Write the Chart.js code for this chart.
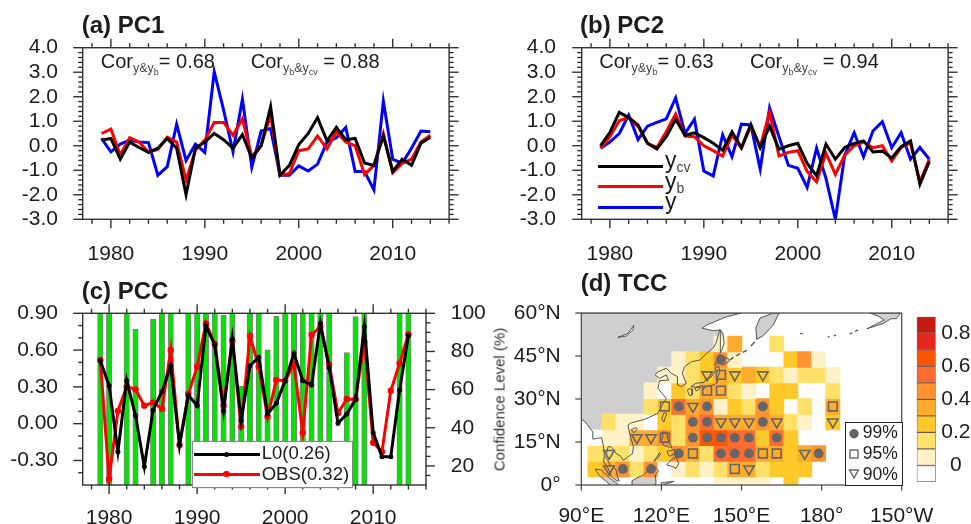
<!DOCTYPE html>
<html><head><meta charset="utf-8">
<script src="https://cdn.jsdelivr.net/npm/chart.js@4"></script>
<style>
html,body{margin:0;padding:0;background:#fff;width:971px;height:524px;overflow:hidden}
body{position:relative;font-family:"Liberation Sans",Arial,sans-serif;color:#1c1c1c}
canvas{position:absolute;display:block;filter:blur(.4px)}
.t{position:absolute;line-height:1;white-space:nowrap;filter:blur(.3px)}
.s{position:relative;color:#444}
.key{position:absolute;height:3px}
</style></head><body>
<script>
// ---------- Data ----------
const years=[1979,1980,1981,1982,1983,1984,1985,1986,1987,1988,1989,1990,1991,1992,1993,1994,1995,1996,1997,1998,1999,2000,2001,2002,2003,2004,2005,2006,2007,2008,2009,2010,2011,2012,2013,2014];
const pc1Obs=[0.3,-0.25,0.07,0.23,0.15,0.13,-1.2,-0.85,0.88,-0.6,0.07,-0.27,3.02,1.45,-0.25,1.9,-0.88,0.6,0.7,-1.2,-1.2,-0.82,-1.03,-0.75,0.15,0.33,0.75,-1.05,-1.05,-1.8,1.82,-0.55,-0.72,-0.1,0.6,0.57];
const pc1Yb=[0.5,0.68,-0.38,0.33,0.15,-0.27,-0.15,0.35,0.15,-1.4,-0.18,0.23,0.95,0.95,0.43,1.1,-0.45,0.03,1.25,-1.2,-1.13,-0.2,-0.13,0.4,-0.13,0.57,0.15,0,-1.17,-0.8,0.5,-1.1,-0.72,-0.55,0.15,0.43];
const pc1Ycv=[0.23,0.3,-0.55,0.15,-0.07,-0.27,-0.1,0.3,-0.1,-2.0,-0.1,0.15,0.5,0.25,-0.1,0.45,-0.5,0,1.6,-1.2,-0.8,0.05,0.5,1.15,0.2,0.75,0.25,0.3,-0.7,-0.8,0.4,-1.05,-0.55,-0.8,0.1,0.35];
const pc2Obs=[-0.1,0.15,0.5,1.25,0.25,0.8,0.95,1.1,1.95,0.5,1.08,-1.03,-1.23,0.45,-0.45,0.88,0.85,-0.95,1.55,0.37,-0.8,-0.92,-1.7,-0.1,-1.33,-3.0,-0.38,0.53,-0.45,0.6,0.98,-0.08,0.53,-0.55,-0.07,-0.55];
const pc2Yb=[-0.1,0.37,1.02,1.15,0.78,0.1,-0.07,0.57,1.3,0.4,0.37,0,-0.2,-0.42,0.43,-0.1,0.8,-0.04,1.36,-0.42,-0.27,-0.2,-1.05,-1.47,-0.3,-1.17,-0.38,0,0.15,-0.08,0,-0.62,-0.07,0.12,-1.47,-0.55];
const pc2Ycv=[0,0.55,1.36,1.15,0.85,0.1,-0.13,0.37,1.07,0.43,0.53,0.33,0.1,-0.18,0.57,-0.08,0.87,-0.08,0.8,-0.15,0,0.1,-0.72,-1.22,0.07,-0.55,-0.07,0.1,0.2,-0.25,-0.22,-0.5,-0.04,0.2,-1.57,-0.65];
const pccL0=[0.514,0.31,-0.228,0.351,0.066,-0.35,0.112,0.261,0.471,-0.174,0.234,0.147,0.797,0.642,0.104,0.691,0.025,0.473,0.541,0.079,0.166,0.351,0.574,0.351,0.316,0.818,0.457,0.003,0.079,0.199,0.791,-0.073,-0.269,-0.269,0.275,0.718];
const pccObs=[0.519,-0.451,0.104,0.302,0.28,0.147,0.174,0.12,0.601,-0.174,0.242,0.465,0.818,0.65,0.147,0.677,-0.024,0.715,0.465,0.057,0.356,0.351,0.484,-0.073,0.723,0.791,0.484,0.085,0.201,0.199,0.669,-0.155,-0.228,0.269,0.492,0.729];
const confidence=[100,100,null,100,91.6,null,96.9,100,100,null,100,100,100,100,99,100,61.9,100,100,80.8,98.6,100,100,100,100,100,100,null,79.4,98.3,100,null,null,null,100,100];

const yearTicks=[1980,1990,2000,2010];
const yearMinor=[1978,1982,1984,1986,1988,1992,1994,1996,1998,2002,2004,2006,2008,2012,2014,2016];
const pcTicks=[-3,-2,-1,0,1,2,3,4];
const pcMinor=[-2.8,-2.6,-2.4,-2.2,-1.8,-1.6,-1.4,-1.2,-0.8,-0.6,-0.4,-0.2,0.2,0.4,0.6,0.8,1.2,1.4,1.6,1.8,2.2,2.4,2.6,2.8,3.2,3.4,3.6,3.8];
const pccTicks=[-0.3,0,0.3,0.6,0.9];
const pccMinor=[-0.4,-0.2,-0.1,0.1,0.2,0.4,0.5,0.7,0.8];
const confTicks=[20,40,60,80,100];
const confMinor=[15,25,30,35,45,50,55,65,70,75,85,90,95];

const cellLons=[95.1,100.4,105.6,110.8,116.1,121.3,126.5,131.8,137.1,142.3,147.5,152.8,158,163.2,168.5,173.7,178.9,184.2];
const cellLats=[0,5.6,11,16.5,22,27.4,32.9,38.4,43.8,49.2];
const _=null, W=-0.05;
const tcc00=[_,_,_,_,_,_,_,_,_,.05,.05,.05,.05,_,.25,_,_,_];
const tcc06=[.25,.35,.45,.15,.45,W,.05,.15,.05,.15,.35,.35,.15,.25,.25,.25,_,_];
const tcc11=[.15,.15,.15,.05,.15,.25,.45,.35,.15,.55,.55,.55,.35,.35,.25,.35,.45,_];
const tcc17=[W,.05,.05,.35,.35,.45,.15,.45,.65,.65,.55,.55,.25,.55,.25,_,_,_];
const tcc22=[_,.15,.05,.05,W,.25,.15,.45,.55,.35,.35,.35,.45,.35,.15,.05,_,.25];
const tcc27=[_,_,_,_,.15,.25,.55,.35,.45,.05,.25,.15,.45,.25,_,.15,_,.35];
const tcc33=[_,_,_,_,.05,W,.25,.15,.35,.35,.15,.05,_,.25,.25,_,_,.15];
const tcc38=[_,_,_,_,_,.05,.05,.15,.25,.35,.25,.35,.25,.15,.05,.15,.15,.05];
const tcc44=[_,_,_,_,_,_,.05,.15,.25,.45,.05,_,_,_,.25,.45,.05,_];
const tcc49=[_,_,_,_,_,_,_,_,_,.05,.35,_,_,.15,_,_,_,_];
const tccRows=[tcc00,tcc06,tcc11,tcc17,tcc22,tcc27,tcc33,tcc38,tcc44,tcc49];

const dots99=[[105.6,5.6],[116.1,5.6],[126.5,11],[142.3,11],[147.5,11],[152.8,11],[178.9,11],[131.8,16.5],[137.1,16.5],[142.3,16.5],[147.5,16.5],[152.8,16.5],[163.2,16.5],[131.8,22],[137.1,22],[158,22],[126.5,27.4],[137.1,27.4],[158,27.4],[142.3,43.8]];
const squares95=[[147.5,5.6],[131.8,11],[158,11],[163.2,11],[121.3,16.5],[121.3,27.4],[184.2,27.4],[137.1,32.9],[142.3,32.9],[142.3,38.4]];
const triangles90=[[100.4,5.6],[152.8,5.6],[100.4,11],[173.7,11],[110.8,16.5],[116.1,16.5],[142.3,22],[147.5,22],[152.8,22],[163.2,22],[184.2,22],[131.8,27.4],[137.1,38.4],[147.5,38.4],[158,38.4]];

const levelEdges=[-0.1,0,.1,.2,.3,.4,.5,.6,.7,.8,.9];
const levelColors=['#ffffff','#fff2c9','#ffe169','#ffc92a','#ffab2e','#ff9330','#ff6b30','#fd5500','#e6261f','#c41a12'];

const lonTicks=[90,120,150,180,210];
const lonLabels=['90°E','120°E','150°E','180°','150°W'];
const latTicks=[0,15,30,45,60];
const latLabels=['0°','15°N','30°N','45°N','60°N'];
const barTicks=[0,.2,.4,.6,.8];

// land outlines, [lon,lat]
const mainland=[[86,60],[150,60],[143.8,58.5],[140.1,57],[136.9,55.8],[135.3,54.7],[139.4,53.8],[141.9,54.1],[140.4,49.4],[139.4,47.7],[136.9,45.9],[134.4,43.6],[131.2,43],[128.7,41.3],[127.8,39],[129.3,35.5],[127.5,34.3],[126.2,34.9],[126,37.8],[123.7,39],[121.8,40.7],[118.7,39.5],[117.7,38.4],[119.3,37.2],[121.8,38.4],[122.7,36.6],[119.3,36.4],[118.7,33.7],[121.8,30.2],[120,27.3],[118.7,25],[113.7,22.9],[108.7,21.7],[107.5,20.9],[108.1,18],[109.5,13.4],[109.2,11],[105.7,8.6],[104.8,10],[103,11],[102,12.5],[100.9,13.4],[100,13.3],[99.5,11],[99.2,9.5],[100.3,8],[100.6,7],[101.8,6.6],[103.2,5],[103.4,3.5],[104.2,1.4],[103.4,1.4],[101.3,2.8],[100.4,5],[99.7,6.5],[98.4,8],[98.6,11],[98.2,14],[97.6,16.5],[96,16.3],[94.3,16],[94.3,18.5],[92.3,21],[91,22.5],[90,22.7],[86,22]];
const sumatra=[[95.3,5.6],[97.5,5.2],[100.5,2.5],[103.5,0.5],[104.5,-1],[102,-1],[99,1.5],[96.5,3.5]];
const borneo=[[109,1.5],[111.3,2.7],[113,3.3],[115,5],[117,7],[119,5],[117.7,3.5],[118,1],[117.5,-1],[109,-1]];
const sulawesi=[[119.7,-1],[120,0.8],[124.8,1.3],[121,0.1],[121.5,-1]];
const guinea=[[131,-1],[132,-0.4],[134,-0.8],[134,-1]];
const palawan=[[117.2,8.4],[119.4,11.3],[119.6,10.6],[117.6,8.4]];
const luzon=[[120.5,18.5],[122,18.4],[122.3,16.2],[124,13],[121,13.7],[120,15.5],[120.4,16.5]];
const visayas=[[122,11.8],[123,10],[125,11],[125,12.5],[123.7,12]];
const mindanao=[[122,7],[123.5,8.7],[125.5,9.7],[126.5,7.5],[125.5,5.8],[124,6.5]];
const taiwan=[[121,25.2],[122,25],[120.9,22],[120.1,23.2]];
const hainan=[[108.7,19.3],[110.5,20],[111,19.6],[109.7,18.2]];
const kyushu=[[130,33.5],[131.7,33.5],[131.5,31.4],[130.5,31.2],[129.8,32.8]];
const shikoku=[[132.5,33.8],[134.5,34.2],[134.3,33.5],[133,32.8]];
const honshu=[[131,34.3],[133,35.5],[136,35.8],[137,37.3],[138.5,37.5],[140,39.5],[140.3,41],[141.5,41.3],[141.9,39.5],[140.9,37],[140.9,35.7],[139.8,35],[138,34.6],[136.8,34.3],[135.7,33.5],[135,34.6],[132.5,34.1]];
const hokkaido=[[140,41.6],[140.5,43.2],[141.7,45.4],[145.2,44],[145.5,43.2],[143.2,42],[141,42.5]];
const sakhalin=[[142,54.2],[143,53],[143.5,49.5],[142.8,47.5],[142,46],[142,49],[142.2,52]];
const kamchatka=[[161.8,60],[156.9,58.2],[155.4,54.8],[155.7,50.8],[158,52],[161.9,55.8],[163.8,59.5],[164,60]];
const alaska=[[198,60],[201,59],[203.5,57.6],[197,54.5],[203,56.3],[206,58],[208,58],[209.5,60]];
const landPolys=[mainland,sumatra,borneo,sulawesi,guinea,palawan,luzon,visayas,mindanao,taiwan,hainan,kyushu,shikoku,honshu,hokkaido,sakhalin,kamchatka,alaska];
const baikal=[[103.7,51.5],[107.5,52.9],[109.7,55.8],[109.3,54],[106.9,52]];
const islandChains=[[[145.7,43.6],[147,44.5]],[[148,45],[149.5,45.8]],[[150.5,46.3],[152,47]],[[153.5,48.5],[155,50]],[[172,52.8],[173,52.8]],[[182.3,51.7],[182.9,51.7]],[[184.6,52],[185.4,52.3]],[[190.6,52.7],[191.5,53.1]],[[192.5,53.6],[193.6,54]]];

// ---------- Helpers ----------
const FONT='"Liberation Sans",Arial,sans-serif';
const INK='#1c1c1c';
function addCanvas(l,t,w,h){const c=document.createElement('canvas');c.width=w;c.height=h;c.style.left=l+'px';c.style.top=t+'px';c.style.width=w+'px';c.style.height=h+'px';document.body.appendChild(c);return c;}
function text(x,base,size,html,css){const d=document.createElement('div');d.className='t';d.style.cssText='left:'+x+'px;top:'+(base-size*0.8465)+'px;font-size:'+size+'px;'+(css||'');d.innerHTML=html;document.body.appendChild(d);return d;}
function frame(marks,lineWidth,color){return {id:'frame',afterDatasetsDraw(chart){
  const c=chart.ctx,a=chart.chartArea;c.save();c.strokeStyle=color;c.lineWidth=lineWidth;
  c.strokeRect(a.left,a.top,a.right-a.left,a.bottom-a.top);
  marks.forEach(m=>{const s=chart.scales[m.scale];m.sides.forEach(side=>{
    [[m.major,m.majLen],[m.minor||[],m.minLen]].forEach(([vals,len])=>vals.forEach(v=>{
      const p=s.getPixelForValue(v);c.beginPath();
      if(side==='left'){c.moveTo(a.left,p);c.lineTo(a.left-len,p);}
      if(side==='right'){c.moveTo(a.right,p);c.lineTo(a.right+len,p);}
      if(side==='top'){c.moveTo(p,a.top);c.lineTo(p,a.top-len);}
      if(side==='bottom'){c.moveTo(p,a.bottom);c.lineTo(p,a.bottom+len);}
      c.stroke();}));});});
  c.restore();}};}
function fixTicks(list){return s=>{s.ticks=list.map(v=>({value:v}));};}
const noPad=s=>{s.paddingTop=0;s.paddingBottom=0;s.paddingLeft=0;s.paddingRight=0;};
function xAxis(min,max,list,h,pad,fmt,fs){return {type:'linear',min,max,offset:false,position:'bottom',
  grid:{display:false,drawTicks:false,offset:false},border:{display:false},afterBuildTicks:fixTicks(list),afterFit:s=>{s.height=h;noPad(s);},
  ticks:{autoSkip:false,maxRotation:0,minRotation:0,padding:pad,color:INK,font:{family:FONT,size:fs||21},callback:fmt}};}
function yAxis(min,max,list,w,pad,fmt,pos,cross){return {type:'linear',min,max,position:pos||'left',
  grid:{display:false,drawTicks:false},border:{display:false},afterBuildTicks:fixTicks(list),afterFit:s=>{s.width=w;noPad(s);},
  ticks:{autoSkip:false,padding:pad,crossAlign:cross||'near',color:INK,font:{family:FONT,size:21},callback:fmt}};}
const baseOpts={responsive:false,animation:false,events:[],devicePixelRatio:1,plugins:{legend:{display:false},tooltip:{enabled:false}}};
const pts=(ys)=>years.map((y,i)=>({x:y,y:ys[i]}));
function pcLine(ys,color,order){return {type:'line',data:pts(ys),borderColor:color,borderWidth:3,pointRadius:0,tension:0,order,fill:false,borderJoinStyle:'miter'};}

function pcChart(canvas,leftW,obs,yb,ycv,labelPad){
  new Chart(canvas,{type:'line',data:{datasets:[pcLine(obs,'#0000ff',3),pcLine(yb,'#ff0000',2),pcLine(ycv,'#000000',1)]},
   options:Object.assign({},baseOpts,{layout:{padding:{top:17.7,right:canvas.width-(leftW+366.4)}},
    scales:{x:xAxis(1977,2016,yearTicks,50.7,22,v=>String(v)),
            y:yAxis(-3,4,pcTicks,leftW,labelPad,v=>v.toFixed(1))}}),
   plugins:[frame([{scale:'x',sides:['top','bottom'],major:yearTicks,minor:yearMinor,majLen:9,minLen:4.5},
                   {scale:'y',sides:['left','right'],major:pcTicks,minor:pcMinor,majLen:9.5,minLen:4.5}],1.4,'#333')]});
}
// (a), (b)
pcChart(addCanvas(0,30,470,240),82.7,pc1Obs,pc1Yb,pc1Ycv,24.7);
pcChart(addCanvas(500,30,471,240),81.7,pc2Obs,pc2Yb,pc2Ycv,25.7);

// (c)
new Chart(addCanvas(0,290,490,234),{type:'line',data:{datasets:[
  {type:'bar',xAxisID:'x',yAxisID:'y2',data:pts(confidence),backgroundColor:'#00e600',borderColor:'#808080',borderWidth:1,barThickness:5.4,order:3},
  {type:'line',xAxisID:'x',yAxisID:'y',data:pts(pccObs),borderColor:'#ff0000',backgroundColor:'#ff0000',borderWidth:3,pointRadius:3.2,pointBorderWidth:0,tension:0,order:2},
  {type:'line',xAxisID:'x',yAxisID:'y',data:pts(pccL0),borderColor:'#000000',backgroundColor:'#000000',borderWidth:3,pointRadius:2.5,pointBorderWidth:0,tension:0,order:1}
 ]},
 options:Object.assign({},baseOpts,{layout:{padding:{top:23.3}},
  scales:{x:xAxis(1977,2016,yearTicks,39,21,v=>String(v)),
   y:yAxis(-0.5,0.9,pccTicks,82.7,24.7,v=>v.toFixed(2)),
   y2:yAxis(10,100,confTicks,64,24.7,v=>String(v),'right')}}),
 plugins:[frame([{scale:'x',sides:['top','bottom'],major:yearTicks,minor:yearMinor,majLen:9,minLen:4.5},
                 {scale:'y',sides:['left'],major:pccTicks,minor:pccMinor,majLen:9.5,minLen:4.5},
                 {scale:'y2',sides:['right'],major:confTicks,minor:confMinor,majLen:9,minLen:4.5}],1.4,'#333')]});

// (d)
function levelColor(v){for(let i=0;i<levelColors.length;i++){if(v<levelEdges[i+1])return levelColors[i];}return levelColors[levelColors.length-1];}
const cellData=[],cellColors=[];
tccRows.forEach((row,r)=>row.forEach((v,k)=>{if(v===null)return;cellData.push({x:cellLons[k],y:[cellLats[r]-2.75,cellLats[r]+2.75]});cellColors.push(levelColor(v));}));
const toXY=a=>a.map(p=>({x:p[0],y:p[1]}));
const closed=a=>toXY(a.concat([a[0]]));
const coastSets=landPolys.concat([baikal]).map(p=>({type:'scatter',showLine:true,data:closed(p),borderColor:'#555',borderWidth:1,pointRadius:0,fill:false,order:5}))
  .concat(islandChains.map(p=>({type:'scatter',showLine:true,data:toXY(p),borderColor:'#555',borderWidth:1.4,pointRadius:0,fill:false,order:5})));
const landPlugin={id:'land',beforeDatasetsDraw(chart){
  const c=chart.ctx,a=chart.chartArea,sx=chart.scales.x,sy=chart.scales.y;c.save();c.beginPath();c.rect(a.left,a.top,a.right-a.left,a.bottom-a.top);c.clip();
  const fillPoly=(poly,col)=>{c.fillStyle=col;c.beginPath();poly.forEach((p,i)=>{const X=sx.getPixelForValue(p[0]),Y=sy.getPixelForValue(p[1]);i?c.lineTo(X,Y):c.moveTo(X,Y);});c.closePath();c.fill();};
  landPolys.forEach(p=>fillPoly(p,'#cfcfcf'));fillPoly(baikal,'#ffffff');c.restore();}};
new Chart(addCanvas(500,290,460,234),{type:'scatter',data:{datasets:[
  {type:'bar',data:cellData,backgroundColor:cellColors,borderWidth:0,barThickness:14.2,order:10},
  ...coastSets,
  {type:'scatter',data:toXY(dots99),pointStyle:'circle',pointRadius:4.9,backgroundColor:'#666',borderColor:'#666',pointBorderWidth:0,order:1},
  {type:'scatter',data:toXY(squares95),pointStyle:'rect',pointRadius:6.2,backgroundColor:'rgba(0,0,0,0)',borderColor:'#666',pointBorderWidth:1.6,order:1},
  {type:'scatter',data:toXY(triangles90),pointStyle:'triangle',pointRotation:180,pointRadius:6,backgroundColor:'rgba(0,0,0,0)',borderColor:'#666',pointBorderWidth:1.6,order:1}
 ]},
 options:Object.assign({},baseOpts,{layout:{padding:{top:23,right:58.3}},
  scales:{x:xAxis(90,210,lonTicks,39,19,v=>lonLabels[lonTicks.indexOf(v)]),
   y:yAxis(0,60,latTicks,81.3,20.6,v=>latLabels[latTicks.indexOf(v)])}}),
 plugins:[landPlugin,frame([{scale:'x',sides:['bottom'],major:lonTicks,majLen:5.5},{scale:'y',sides:['left'],major:latTicks,majLen:6}],1.2,'#444')]});

// colour bar
const barData=levelColors.map((c,i)=>({x:0,y:[levelEdges[i],levelEdges[i+1]]}));
new Chart(addCanvas(910,310,61,180),{type:'bar',data:{datasets:[{data:barData,backgroundColor:levelColors,borderColor:'rgba(70,50,40,0.7)',borderWidth:1,borderSkipped:false,barThickness:19}]},
 options:Object.assign({},baseOpts,{layout:{padding:{left:6.7,top:6.7,bottom:8}},
  scales:{x:{type:'linear',min:-1,max:1,display:false,offset:false,grid:{offset:false}},
   y:yAxis(-0.1,0.9,barTicks,35.3,5.5,v=>v===0?'0':v.toFixed(1),'right','center')}})});

// ---------- Text ----------
text(81.7,33,24,'(a) PC1','font-weight:bold');
text(580,33,24,'(b) PC2','font-weight:bold');
text(81.7,299,24,'(c) PCC','font-weight:bold');
text(580.7,291,24,'(d) TCC','font-weight:bold');
const sub=(t,sz,top)=>'<span class="s" style="font-size:'+sz+'px;top:'+top+'px">'+t+'</span>';
function cors(x1,x2,v1,v2){
  text(x1,68.3,20,'Cor'+sub('y&amp;y',12.5,4)+sub('b',9,7)+'= '+v1);
  text(x2,68.3,20,'Cor'+sub('y',12.5,4)+sub('b',9,7)+sub('&amp;y',12.5,4)+sub('cv',9,7)+'&nbsp;= '+v2);
}
cors(100.7,250.7,'0.68','0.88');
cors(599.3,750,'0.63','0.94');
function key(x,y,w,col){const d=document.createElement('div');d.className='key';d.style.cssText='left:'+x+'px;top:'+(y-1.5)+'px;width:'+w+'px;background:'+col;document.body.appendChild(d);}
key(598,166,65,'#000');key(598,186,65,'#f00');key(598,207,65,'#00f');
text(665,168,23,'y'+sub('cv',14,4));
text(665,189,23,'y'+sub('b',14,4));
text(665,209,23,'y');

// legend (c)
const lc=document.createElement('div');lc.style.cssText='position:absolute;left:191.7px;top:441px;width:159px;height:45px;background:#fff;border:1px solid #888;box-shadow:0 0 1px #888';document.body.appendChild(lc);
key(193.5,454,66.5,'#000');key(193.5,474.3,66.5,'#f00');
function dot(x,y,r,col){const d=document.createElement('div');d.style.cssText='position:absolute;left:'+(x-r)+'px;top:'+(y-r)+'px;width:'+2*r+'px;height:'+2*r+'px;border-radius:50%;background:'+col;document.body.appendChild(d);return d;}
dot(226.5,454,2.5,'#000');dot(226.5,474.3,3.2,'#f00');
text(261.7,460,18.5,'L0(0.26)');
text(261.7,480.5,18.5,'OBS(0.32)');

// legend (d)
const ld=document.createElement('div');ld.style.cssText='position:absolute;left:845px;top:421.7px;width:55.5px;height:62.3px;background:#fff;border:1.2px solid #222';document.body.appendChild(ld);
const sv=document.createElementNS('http://www.w3.org/2000/svg','svg');
sv.setAttribute('width','20');sv.setAttribute('height','60');sv.style.cssText='position:absolute;left:846px;top:424px';
sv.innerHTML='<circle cx="8" cy="9.7" r="4.7" fill="#666"/><rect x="4" y="26" width="8" height="8" fill="none" stroke="#666" stroke-width="1.4"/><path d="M3.5 46 L12.5 46 L8 54 Z" fill="none" stroke="#666" stroke-width="1.4"/>';
document.body.appendChild(sv);
text(862.7,439,17.5,'99%');
text(862.7,459.5,17.5,'95%');
text(862.7,481,17.5,'90%');

// y label (d)
const cl=text(499,400,15,'Confidence Level (%)','color:#333;transform:translate(-50%,0) rotate(-90deg);transform-origin:50% 50%');
cl.style.top='392px';
</script>
</body></html>
